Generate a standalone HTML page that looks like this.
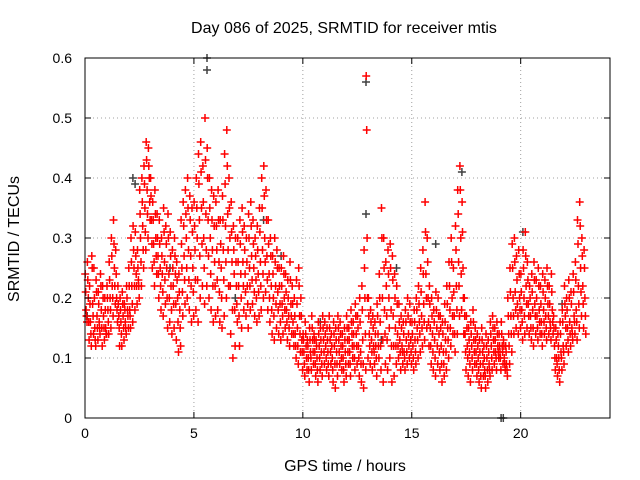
<!DOCTYPE html>
<html><head><meta charset="utf-8"><style>
html,body{margin:0;padding:0;background:#fff;}
svg{display:block;font-family:"Liberation Sans",sans-serif;}
</style></head><body>
<svg id="chart" width="640" height="480">
<rect x="0" y="0" width="640" height="480" fill="#fff"/>
<g id="grid"></g>
<g id="marks"></g>
<g id="axes"></g>
<text x="344" y="33" font-size="16" text-anchor="middle">Day 086 of 2025, SRMTID for receiver mtis</text>
<text x="345" y="471" font-size="16" text-anchor="middle">GPS time / hours</text>
<text x="19" y="239" font-size="16" text-anchor="middle" transform="rotate(-90 19 239)">SRMTID / TECUs</text>
</svg>
<script>
const xTicks=[0,5,10,15,20];
const yTicks=[0,0.1,0.2,0.3,0.4,0.5,0.6];
const yTickLabels=["0","0.1","0.2","0.3","0.4","0.5","0.6"];
const step=0.1;
const seriesHigh=[.24,.26,.22,.27,.25,.23,.21,.24,.22,.20,.22,.26,.30,.33,.28,.22,.20,.21,.19,.22,.25,.30,.32,.31,.28,.38,.40,.42,.46,.45,.40,.36,.38,.34,.33,.30,.35,.32,.34,.31,.28,.30,.26,.24,.33,.36,.38,.40,.37,.35,.36,.40,.44,.46,.42,.50,.45,.40,.38,.37,.36,.38,.33,.37,.44,.48,.40,.36,.32,.30,.30,.33,.35,.32,.30,.34,.36,.33,.30,.32,.35,.40,.42,.38,.33,.30,.27,.30,.28,.25,.25,.27,.24,.23,.26,.22,.20,.23,.25,.20,.14,.16,.13,.15,.17,.14,.13,.16,.15,.17,.16,.15,.17,.14,.16,.15,.17,.16,.14,.15,.17,.15,.18,.16,.19,.17,.20,.22,.28,.57,.20,.18,.17,.16,.19,.24,.35,.30,.26,.28,.29,.27,.24,.22,.19,.17,.16,.18,.20,.19,.16,.18,.20,.22,.25,.28,.36,.30,.22,.20,.18,.21,.20,.17,.16,.19,.22,.26,.30,.25,.32,.38,.42,.36,.20,.17,.15,.16,.18,.15,.14,.13,.15,.12,.14,.13,.16,.17,.15,.16,.14,.16,.13,.12,.20,.25,.29,.30,.27,.28,.24,.28,.31,.26,.22,.24,.26,.23,.25,.22,.24,.23,.25,.22,.24,.17,.15,.14,.16,.18,.22,.20,.23,.21,.24,.26,.33,.36,.30,.28];
const seriesUpperMid=[.21,.23,.19,.25,.20,.21,.19,.22,.20,.18,.20,.23,.27,.29,.24,.19,.18,.19,.18,.20,.22,.26,.28,.27,.25,.34,.36,.39,.43,.42,.37,.33,.34,.30,.29,.27,.31,.29,.30,.27,.25,.27,.23,.21,.29,.32,.34,.35,.33,.31,.32,.35,.39,.41,.36,.43,.40,.35,.33,.32,.32,.33,.29,.33,.39,.42,.35,.31,.28,.26,.26,.29,.31,.28,.26,.30,.32,.29,.27,.28,.31,.35,.37,.33,.29,.27,.24,.26,.25,.22,.22,.24,.21,.20,.23,.19,.17,.19,.22,.17,.13,.14,.12,.13,.15,.13,.12,.14,.13,.15,.14,.13,.15,.12,.14,.13,.15,.14,.12,.13,.15,.13,.16,.14,.17,.15,.16,.18,.25,.48,.17,.16,.15,.14,.17,.20,.30,.25,.22,.24,.25,.23,.20,.19,.16,.15,.14,.16,.17,.16,.14,.16,.18,.19,.21,.24,.31,.26,.19,.17,.16,.18,.17,.15,.14,.16,.19,.22,.26,.21,.28,.34,.38,.31,.17,.15,.13,.14,.16,.13,.12,.11,.13,.10,.12,.11,.14,.15,.13,.14,.12,.14,.12,.11,.17,.21,.25,.26,.23,.24,.21,.25,.27,.23,.20,.21,.23,.20,.22,.19,.21,.20,.22,.19,.21,.15,.13,.12,.14,.16,.19,.18,.20,.19,.21,.23,.29,.32,.27,.25];
const seriesMid=[.18,.20,.16,.19,.15,.17,.16,.18,.17,.15,.18,.20,.22,.25,.20,.17,.16,.17,.16,.18,.18,.22,.25,.24,.23,.30,.32,.35,.38,.40,.33,.29,.30,.27,.25,.24,.26,.25,.24,.22,.22,.24,.20,.18,.25,.27,.30,.28,.27,.25,.28,.30,.33,.35,.30,.34,.33,.30,.28,.26,.28,.26,.25,.28,.32,.34,.30,.26,.24,.22,.22,.24,.26,.24,.22,.25,.27,.25,.23,.24,.26,.28,.30,.27,.24,.22,.20,.22,.21,.19,.19,.20,.18,.17,.19,.16,.14,.15,.17,.13,.11,.12,.10,.11,.13,.11,.10,.12,.11,.13,.12,.11,.13,.10,.12,.11,.13,.12,.10,.11,.13,.11,.14,.12,.14,.12,.11,.13,.20,.30,.14,.13,.12,.12,.14,.16,.20,.18,.17,.20,.18,.17,.15,.14,.13,.12,.11,.13,.14,.13,.12,.13,.15,.16,.17,.19,.24,.20,.15,.14,.13,.15,.14,.12,.11,.13,.15,.18,.20,.17,.22,.26,.30,.25,.14,.12,.11,.12,.13,.11,.10,.09,.11,.08,.10,.09,.12,.13,.11,.12,.11,.12,.10,.09,.14,.17,.20,.21,.19,.20,.18,.20,.22,.19,.17,.18,.19,.17,.18,.16,.18,.17,.19,.16,.18,.12,.10,.10,.11,.12,.17,.15,.16,.15,.17,.18,.22,.25,.22,.20];
const seriesLowerMid=[.17,.16,.14,.17,.13,.15,.15,.15,.15,.14,.16,.18,.20,.22,.18,.15,.14,.15,.15,.17,.17,.19,.22,.22,.22,.26,.28,.31,.34,.36,.29,.26,.27,.24,.22,.21,.23,.20,.20,.18,.19,.19,.16,.15,.21,.23,.25,.23,.22,.21,.23,.23,.27,.29,.25,.28,.27,.24,.22,.22,.23,.21,.20,.23,.26,.28,.22,.18,.18,.19,.17,.20,.22,.21,.19,.22,.23,.21,.20,.21,.22,.24,.26,.23,.20,.18,.17,.19,.18,.16,.17,.18,.16,.15,.17,.14,.12,.12,.14,.11,.09,.10,.08,.10,.11,.09,.08,.10,.09,.11,.10,.09,.11,.08,.09,.09,.11,.10,.08,.09,.11,.09,.12,.10,.12,.10,.09,.09,.14,.20,.12,.11,.11,.10,.12,.12,.13,.14,.13,.15,.12,.12,.12,.12,.11,.11,.10,.11,.12,.11,.10,.11,.13,.14,.15,.16,.20,.16,.12,.11,.10,.12,.11,.09,.09,.11,.13,.15,.17,.14,.18,.22,.24,.20,.11,.10,.09,.10,.11,.09,.08,.07,.09,.07,.08,.08,.10,.11,.10,.11,.10,.11,.09,.08,.12,.14,.17,.18,.17,.18,.16,.17,.19,.17,.15,.15,.17,.15,.16,.14,.16,.15,.17,.15,.16,.10,.09,.08,.10,.11,.15,.13,.14,.14,.16,.16,.19,.21,.19,.17];
const seriesLow=[.16,.13,.12,.14,.12,.13,.14,.12,.13,.14,.14,.15,.17,.19,.16,.12,.12,.13,.14,.15,.15,.16,.18,.19,.20,.22,.25,.28,.30,.33,.25,.22,.24,.20,.18,.17,.19,.15,.16,.14,.15,.13,.11,.12,.17,.19,.20,.18,.16,.17,.18,.16,.20,.22,.19,.22,.20,.18,.16,.17,.18,.16,.15,.17,.20,.22,.14,.10,.12,.16,.12,.15,.18,.17,.15,.18,.19,.17,.16,.17,.18,.20,.21,.18,.16,.14,.13,.15,.14,.13,.14,.15,.13,.12,.14,.12,.10,.09,.11,.08,.07,.08,.06,.08,.09,.07,.06,.08,.07,.09,.08,.07,.09,.06,.05,.07,.09,.08,.06,.07,.09,.07,.10,.08,.09,.07,.06,.05,.08,.10,.09,.08,.09,.07,.10,.08,.06,.09,.08,.10,.06,.07,.09,.10,.08,.09,.08,.09,.10,.09,.08,.09,.10,.11,.12,.13,.15,.12,.09,.08,.07,.09,.08,.06,.07,.08,.10,.12,.14,.11,.14,.17,.18,.14,.08,.07,.06,.08,.09,.07,.06,.05,.07,.05,.06,.07,.08,.09,.08,.10,.08,.09,.08,.07,.09,.11,.14,.15,.14,.15,.13,.14,.15,.14,.13,.12,.14,.13,.14,.12,.14,.13,.14,.13,.14,.08,.07,.06,.08,.09,.12,.11,.12,.13,.14,.13,.15,.17,.15,.14];
const grayT=[5.6,5.6,12.9,12.9,17.3,2.2,2.3,19.1,19.2,3.9,9.0,16.1,14.3,0.1,20.1,10.8,8.2,13.6,6.9,21.9];
const grayV=[0.60,0.58,0.56,0.34,0.41,0.40,0.39,0.0,0.0,0.25,0.27,0.29,0.25,0.17,0.31,0.16,0.33,0.13,0.20,0.19];
const NS="http://www.w3.org/2000/svg";
const L=85,R=610,T=58,B=418,xMax=24.1,yMax=0.6;
const xs=v=>L+(v/xMax)*(R-L);
const ys=v=>B-(v/yMax)*(B-T);
function mk(tag,attrs,parent){const e=document.createElementNS(NS,tag);for(const k in attrs)e.setAttribute(k,attrs[k]);parent.appendChild(e);return e;}
const grid=document.getElementById('grid'),axes=document.getElementById('axes'),marks=document.getElementById('marks');
xTicks.forEach((t,i)=>{
  const x=xs(t);
  if(t>0){const g=mk('line',{x1:x,y1:T,x2:x,y2:B,stroke:'#a0a0a0','stroke-dasharray':'1,3'},grid);
  
  }
  const tk=mk('path',{d:`M${x},${B}v-6M${x},${T}v6`,stroke:'#000'},axes);
  
  
  const lb=mk('text',{x:x,y:B+20,'font-size':14,'text-anchor':'middle'},axes);
  lb.textContent=String(t);
  
  
});
yTicks.forEach((t,i)=>{
  const y=ys(t);
  if(t>0&&t<yMax){const g=mk('line',{x1:L,y1:y,x2:R,y2:y,stroke:'#a0a0a0','stroke-dasharray':'1,3'},grid);
  
  }
  const tk=mk('path',{d:`M${L},${y}h6M${R},${y}h-6`,stroke:'#000'},axes);
  
  
  const lb=mk('text',{x:L-13,y:y+5,'font-size':14,'text-anchor':'end'},axes);
  lb.textContent=yTickLabels[i];
  
  
});
const frame=mk('rect',{x:L,y:T,width:R-L,height:B-T,fill:'none',stroke:'#000'},axes);


function plus(t,v,color,name){
  const x=xs(t),y=ys(v);
  const p=mk('path',{d:`M${(x-4).toFixed(1)},${y.toFixed(1)}h8M${x.toFixed(1)},${(y-4).toFixed(1)}v8`,stroke:color,'stroke-width':1.5},marks);
  
  
}
grayT.forEach((t,i)=>plus(t,grayV[i],'#404040','gray-point'));
[[seriesHigh,0.01],[seriesUpperMid,0.03],[seriesMid,0.05],[seriesLowerMid,0.07],[seriesLow,0.09]].forEach(([arr,off])=>{
  arr.forEach((v,i)=>plus(i*step+off,v,'#ff0000','red-point'));
});
</script>
</body></html>
